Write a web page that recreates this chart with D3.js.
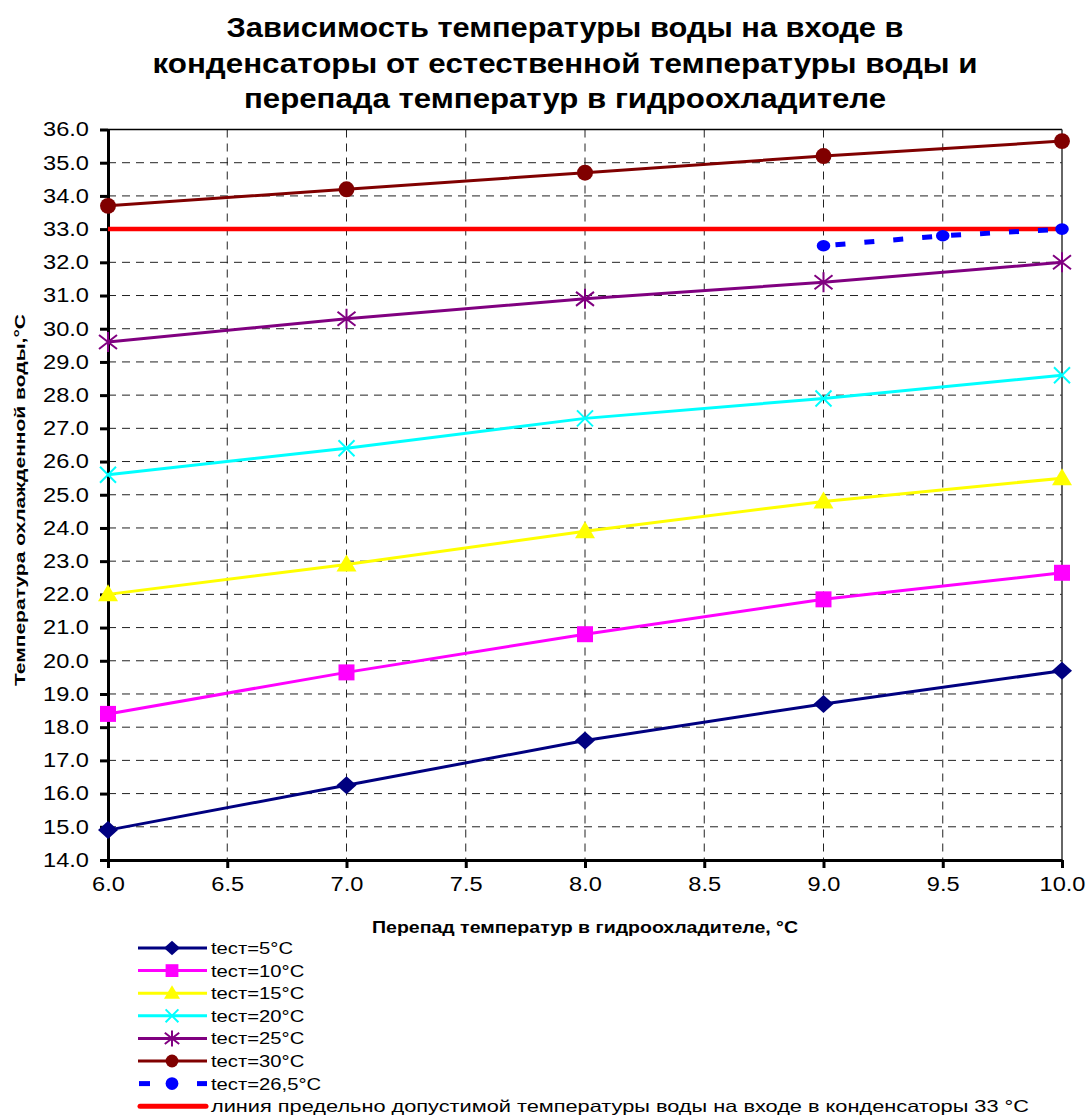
<!DOCTYPE html>
<html><head><meta charset="utf-8">
<script src="https://cdn.jsdelivr.net/npm/d3@7"></script>
<style>body{margin:0;background:#fff}svg{display:block;font-family:"Liberation Sans",Arial,sans-serif}</style>
</head><body>
<script>
const titleLines = ["Зависимость температуры воды на входе в","конденсаторы от естественной температуры воды и","перепада температур в гидроохладителе"];
const xLabel = "Перепад температур в гидроохладителе, °С";
const yLabel = "Температура охлажденной воды,°С";
const xTicks = [6.0,6.5,7.0,7.5,8.0,8.5,9.0,9.5,10.0];
const yTicks = [14,15,16,17,18,19,20,21,22,23,24,25,26,27,28,29,30,31,32,33,34,35,36];
const xMain = [6,7,8,9,10];
const t5  = [14.9,16.25,17.6,18.7,19.7];
const t10 = [18.4,19.65,20.8,21.85,22.65];
const t15 = [22.0,22.9,23.9,24.8,25.5];
const t20 = [25.6,26.4,27.3,27.9,28.6];
const t25 = [29.6,30.3,30.9,31.4,32.0];
const t30 = [33.7,34.2,34.7,35.2,35.65];
const x265 = [9,9.5,10];
const t265 = [32.5,32.8,33.0];
const xLimit = [6,10];
const limit = [33,33];
const names = ["tест=5°C","tест=10°C","tест=15°C","tест=20°C","tест=25°C","tест=30°C","tест=26,5°C","линия предельно допустимой температуры воды на входе в конденсаторы 33 °C"];
const colors = ["#000080","#FF00FF","#FFFF00","#00FFFF","#800080","#800000","#0000FF","#FF0000"];
const symbols = ["diamond","square","triangle","x","star","circle","circle",null];

const W=1089,H=1117;
const m={l:108,r:1062,t:129.5,b:860};
const svg=d3.select("body").append("svg").attr("width",W).attr("height",H);
const x=d3.scaleLinear().domain([6,10]).range([m.l,m.r]);
const y=d3.scaleLinear().domain([14,36]).range([m.b,m.t]);

function stretch(sel,k){
  sel.each(function(){
    const len=this.getComputedTextLength();
    d3.select(this).attr("textLength",len*k).attr("lengthAdjust","spacingAndGlyphs");
  });
}
function fit(sel,target){
  sel.attr("textLength",target).attr("lengthAdjust","spacingAndGlyphs");
}

// title
const titleW=[677,825,642];
svg.append("g").selectAll("text").data(titleLines).join("text")
  .attr("x",565).attr("y",(d,i)=>37+i*35.6).attr("text-anchor","middle")
  .attr("font-size",27).attr("font-weight","bold").attr("fill","#000").text(d=>d)
  .each(function(d,i){fit(d3.select(this),titleW[i]);});

// grid
const g=svg.append("g");
g.selectAll("line.h").data(yTicks.slice(1,-1)).join("line")
  .attr("x1",m.l).attr("x2",m.r).attr("y1",d=>y(d)).attr("y2",d=>y(d))
  .attr("stroke","#222").attr("stroke-width",1).attr("stroke-dasharray","8,6");
g.selectAll("line.v").data(xTicks.slice(1,-1)).join("line")
  .attr("y1",m.t).attr("y2",m.b).attr("x1",d=>x(d)).attr("x2",d=>x(d))
  .attr("stroke","#222").attr("stroke-width",1).attr("stroke-dasharray","8,6");
// top/right border
svg.append("line").attr("x1",m.l).attr("x2",m.r).attr("y1",m.t).attr("y2",m.t).attr("stroke","#000").attr("stroke-width",1.5);
svg.append("line").attr("x1",m.r).attr("x2",m.r).attr("y1",m.t).attr("y2",m.b).attr("stroke","#333").attr("stroke-width",1.5);

// axes
const ya=svg.append("g").attr("transform",`translate(${m.l},0)`)
  .call(d3.axisLeft(y).tickValues(yTicks).tickFormat(d3.format(".1f")).tickSize(8).tickSizeOuter(0));
ya.select(".domain").attr("stroke","#000").attr("stroke-width",3);
ya.selectAll(".tick line").attr("stroke","#000").attr("stroke-width",3);
ya.selectAll(".tick text").attr("font-size",20).attr("fill","#000").attr("x",-19).attr("font-family","Liberation Sans, Arial, sans-serif").call(stretch,1.18);
const xa=svg.append("g").attr("transform",`translate(0,${m.b})`)
  .call(d3.axisBottom(x).tickValues(xTicks).tickFormat(d3.format(".1f")).tickSize(8).tickSizeOuter(0));
xa.select(".domain").attr("stroke","#000").attr("stroke-width",3);
xa.selectAll(".tick line").attr("stroke","#000").attr("stroke-width",3);
xa.selectAll(".tick text").attr("font-size",20).attr("fill","#000").attr("y",17).attr("font-family","Liberation Sans, Arial, sans-serif").call(stretch,1.18);

// axis labels
svg.append("text").attr("x",585).attr("y",933).attr("text-anchor","middle")
  .attr("font-size",17).attr("font-weight","bold").text(xLabel).call(fit,426);
svg.append("text").attr("transform",`translate(25,500) rotate(-90)`).attr("text-anchor","middle")
  .attr("font-size",15).attr("font-weight","bold").text(yLabel).call(fit,372);

function markerPath(sym,s){
  s=s||1;
  switch(sym){
    case "diamond": return `M0,${-9*s}L${10*s},0L0,${9*s}L${-10*s},0Z`;
    case "square": return `M${-8*s},${-8*s}H${8*s}V${8*s}H${-8*s}Z`;
    case "triangle": return `M0,${-10*s}L${10*s},${7*s}H${-10*s}Z`;
    case "x": return `M${-8*s},${-8*s}L${8*s},${8*s}M${-8*s},${8*s}L${8*s},${-8*s}`;
    case "star": return `M${-9*s},${-7*s}L${9*s},${7*s}M${-9*s},${7*s}L${9*s},${-7*s}M0,${-10*s}L0,${10*s}`;
    case "circle": return d3.symbol(d3.symbolCircle,200*s*s)();
  }
}
const series=[
  {xs:xMain,ys:t5},{xs:xMain,ys:t10},{xs:xMain,ys:t15},{xs:xMain,ys:t20},
  {xs:xMain,ys:t25},{xs:xMain,ys:t30},{xs:x265,ys:t265},{xs:xLimit,ys:limit}
];
const line=d3.line().x(d=>x(d[0])).y(d=>y(d[1]));
const plot=svg.append("g");
const order=[7,0,1,2,3,4,5,6];
order.forEach(i=>{
  const s=series[i]; const pts=s.xs.map((v,k)=>[v,s.ys[k]]);
  const p=plot.append("path").attr("d",line(pts)).attr("fill","none").attr("stroke",colors[i]);
  if(i===7) p.attr("stroke-width",4.5);
  else if(i===6) p.attr("stroke-width",5).attr("stroke-dasharray","10,19").attr("stroke-dashoffset",-12);
  else p.attr("stroke-width",3);
  if(symbols[i]){
    const sym=symbols[i];
    const open=(sym==="x"||sym==="star");
    plot.selectAll(null).data(pts).join("path")
      .attr("d",markerPath(sym, i===6?0.85:1))
      .attr("fill",open?"none":colors[i])
      .attr("stroke",colors[i]).attr("stroke-width",open?2:0)
      .attr("transform",d=>`translate(${x(d[0])},${y(d[1])})`+(i===6?" scale(1,0.85)":""));
  }
});

// legend
const lg=svg.append("g");
names.forEach((n,i)=>{
  const yy=948+i*22.6;
  const row=lg.append("g");
  if(i===6){
    row.append("line").attr("x1",139).attr("x2",150).attr("y1",yy).attr("y2",yy).attr("stroke",colors[i]).attr("stroke-width",5);
    row.append("line").attr("x1",197).attr("x2",207).attr("y1",yy).attr("y2",yy).attr("stroke",colors[i]).attr("stroke-width",5);
  } else if(i===7){
    row.append("line").attr("x1",140).attr("x2",206).attr("y1",yy).attr("y2",yy).attr("stroke",colors[i]).attr("stroke-width",5).attr("stroke-linecap","round");
  } else {
    row.append("line").attr("x1",138).attr("x2",207).attr("y1",yy).attr("y2",yy).attr("stroke",colors[i]).attr("stroke-width",3);
  }
  if(symbols[i]){
    const sym=symbols[i];
    const open=(sym==="x"||sym==="star");
    row.append("path").attr("d",markerPath(sym,0.8))
      .attr("transform",`translate(172,${yy})`)
      .attr("fill",open?"none":colors[i])
      .attr("stroke",colors[i]).attr("stroke-width",open?2:0);
  }
  const t=row.append("text").attr("x",211).attr("y",yy+6).attr("font-size",i===7?16.5:17).attr("fill","#000").text(n);
  if(i===7) t.call(fit,818); else t.call(stretch,1.19);
});
</script>
</body></html>
